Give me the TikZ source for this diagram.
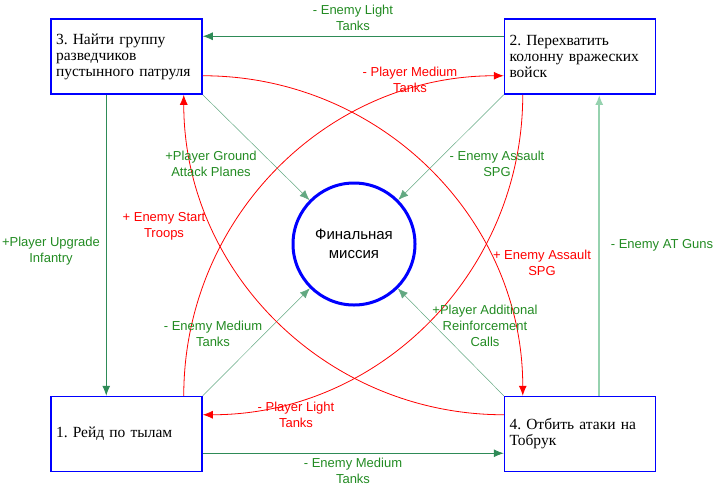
\documentclass[tikz,border=0pt]{standalone}
\usepackage{fontspec}
\setmainfont{Liberation Serif}
\newfontfamily\lblfont{Liberation Sans}
\usetikzlibrary{arrows.meta,calc}

\definecolor{boxblue}{RGB}{0,0,255}
\definecolor{linegreen}{RGB}{46,139,87}
\definecolor{palegreen}{RGB}{150,210,175}
\definecolor{txtgreen}{RGB}{34,139,34}

\tikzset{
  mission/.style={rectangle, draw=boxblue, line width=1.5pt, minimum width=151pt, minimum height=75pt,
    text width=141pt, inner xsep=5pt, align=left, font=\fontsize{15.5}{16}\selectfont},
  final/.style={circle, draw=boxblue, line width=3pt, minimum size=122pt, align=center,
    font=\lblfont\fontsize{15}{19}\selectfont},
  gain/.style={-{Latex[length=10pt,width=8pt]}, linegreen, line width=0.8pt},
  hint/.style={-{Latex[length=10pt,width=8pt]}, linegreen!75, line width=0.5pt},
  loss/.style={-{Latex[length=10pt,width=8pt]}, red, line width=0.8pt},
  lbl/.style={align=center, inner sep=0pt, font=\lblfont\fontsize{13}{16}\selectfont},
}

\begin{document}
\frenchspacing
\begin{tikzpicture}[x=1pt, y=1pt]
    \useasboundingbox (0,0) rectangle (719,-488);

    % Missionen
    \node[mission] (b3) at (126.5,-56.5) {3. Найти группу\\разведчиков\\пустынного патруля};
    \node[mission] (b2) at (580,-56.5) {2. Перехватить\\колонну вражеских\\войск};
    \node[mission] (b1) at (126.5,-434) {1. Рейд по тылам};
    \node[mission] (b4) at (580,-434) {4. Отбить атаки на\\Тобрук};

    % Finale
    \node[final] (fin) at (354,-244) {Финальная\\миссия};

    % Rand
    \draw[gain] ($(b2.north west)+(0,-18)$) -- ($(b3.north east)+(0,-18)$);
    \draw[gain] ($(b3.south west)+(56,0)$) -- ($(b1.north west)+(56,0)$);
    \draw[gain] ($(b1.south east)+(0,19)$) -- ($(b4.south west)+(0,19)$);
    \draw[gain, palegreen, line width=2pt] ($(b4.north east)+(-57,0)$) -- ($(b2.south east)+(-57,0)$);

    % zum Finale
    \draw[hint] (b3.south east) -- (fin);
    \draw[hint] (b2.south west) -- (fin);
    \draw[hint] (b1.north east) -- (fin);
    \draw[hint] (b4.north west) -- (fin);

    % Boegen
    \draw[loss] ($(b3.south east)+(0,19)$) to[bend left=45] ($(b4.north west)+(19,0)$);
    \draw[loss] ($(b4.north west)+(0,-19)$) to[bend left=45] ($(b3.south east)+(-19,0)$);
    \draw[loss] ($(b1.north east)+(-19,0)$) to[bend left=45] ($(b2.south west)+(0,19)$);
    \draw[loss] ($(b2.south west)+(19,0)$) to[bend left=45] ($(b1.north east)+(0,-19)$);

    % Labels
    \node[lbl, txtgreen] (l23) at (353,-18) {- Enemy Light\\Tanks};
    \node[lbl, txtgreen] (l31) at (51,-251) {+Player Upgrade\\Infantry};
    \node[lbl, txtgreen] (l14) at (353,-471) {- Enemy Medium\\Tanks};
    \node[lbl, txtgreen] (l42) at (662,-245) {- Enemy AT Guns};
    \node[lbl, txtgreen] (l3f) at (211,-164) {+Player Ground\\Attack Planes};
    \node[lbl, txtgreen] (l2f) at (497,-164) {- Enemy Assault\\SPG};
    \node[lbl, txtgreen] (l1f) at (213,-334) {- Enemy Medium\\Tanks};
    \node[lbl, txtgreen] (l4f) at (485,-326) {+Player Additional\\Reinforcement\\Calls};
    \node[lbl, red] (l34) at (542,-263) {+ Enemy Assault\\SPG};
    \node[lbl, red] (l43) at (164,-226) {+ Enemy Start\\Troops};
    \node[lbl, red] (l12) at (410,-80) {- Player Medium\\Tanks};
    \node[lbl, red] (l21) at (296,-415) {- Player Light\\Tanks};
\end{tikzpicture}
\end{document}
